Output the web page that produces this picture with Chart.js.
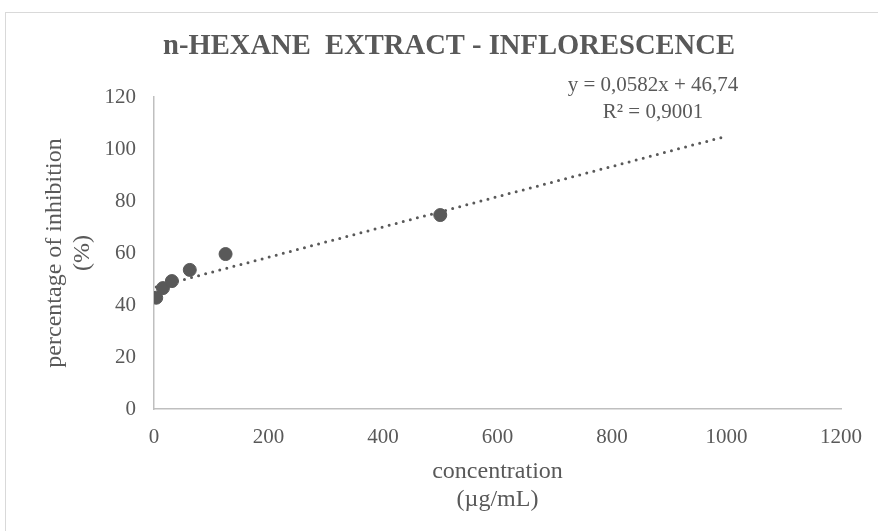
<!DOCTYPE html>
<html>
<head>
<meta charset="utf-8">
<script src="https://cdn.jsdelivr.net/npm/chart.js@4/dist/chart.umd.min.js"></script>
<style>
    html, body { margin: 0; padding: 0; background: #fff; }
    #wrap { width: 878px; height: 531px; }
</style>
</head>
<body>
<div id="wrap"><canvas id="inhibitionChart"></canvas></div>
<script>
const concentration = [3.9, 15.6, 31.25, 62.5, 125, 500];
const inhibition = [42.8, 46.5, 49.2, 53.5, 59.6, 74.6];

// linear trendline endpoints, as shown on the chart
const trendX = [3.9, 1000];
const trendY = [46.97, 104.94];

const xTicks = [0, 200, 400, 600, 800, 1000, 1200];
const yTicks = [0, 20, 40, 60, 80, 100, 120];

const chartTitle = 'n-HEXANE  EXTRACT - INFLORESCENCE';
const equationLines = ['y = 0,0582x + 46,74', 'R\u00b2 = 0,9001'];

const textColor = '#595959';
const serif = "'Liberation Serif', 'Times New Roman', serif";

const framePlugin = {
    id: 'frame',
    beforeDraw(chart) {
        const ctx = chart.ctx;
        ctx.save();
        ctx.strokeStyle = '#d9d9d9';
        ctx.lineWidth = 1;
        ctx.strokeRect(5.5, 12.5, chart.width + 20, chart.height + 20);
        ctx.restore();
    }
};

// title and trendline equation, drawn as text on the canvas
const labelsPlugin = {
    id: 'labels',
    afterDraw(chart) {
        const ctx = chart.ctx;
        ctx.save();
        ctx.fillStyle = textColor;
        ctx.textAlign = 'center';
        ctx.textBaseline = 'middle';
        ctx.font = `bold 28.6px ${serif}`;
        ctx.fillText(chartTitle, 449, 47);
        ctx.font = `21px ${serif}`;
        ctx.fillText(equationLines[0], 653, 85);
        ctx.fillText(equationLines[1], 653, 112);
        ctx.restore();
    }
};

const ctx = document.getElementById('inhibitionChart').getContext('2d');
new Chart(ctx, {
    type: 'scatter',
    data: {
        datasets: [
            {
                label: 'inhibition',
                data: concentration.map((c, i) => ({ x: c, y: inhibition[i] })),
                backgroundColor: '#595959',
                borderColor: '#595959',
                pointRadius: 6.5,
                pointHoverRadius: 6.5,
                order: 1
            },
            {
                label: 'trend',
                type: 'line',
                data: trendX.map((x, i) => ({ x: x, y: trendY[i] })),
                borderColor: '#595959',
                borderWidth: 3,
                borderDash: [0, 7.3],
                borderCapStyle: 'round',
                pointRadius: 0,
                fill: false,
                order: 2
            }
        ]
    },
    options: {
        responsive: true,
        maintainAspectRatio: false,
        animation: false,
        layout: {
            padding: { top: 97, right: 34, bottom: 0, left: 0 }
        },
        plugins: {
            legend: { display: false },
            tooltip: { enabled: false },
            title: { display: false }
        },
        scales: {
            x: {
                type: 'linear',
                min: 0,
                max: 1200,
                afterBuildTicks: s => { s.ticks = xTicks.map(v => ({ value: v })); },
                afterFit: s => { s.height = 122; },
                grid: { display: false, drawTicks: false },
                border: { display: true, color: '#bfbfbf', width: 1.5 },
                ticks: {
                    color: textColor,
                    padding: 16,
                    maxRotation: 0,
                    font: { family: serif, size: 21 },
                    callback: v => String(v)
                },
                title: {
                    display: true,
                    text: ['concentration', '(\u00b5g/mL)'],
                    color: textColor,
                    font: { family: serif, size: 24, lineHeight: 1.17 },
                    padding: { top: 0, bottom: 17 }
                }
            },
            y: {
                min: 0,
                max: 120,
                afterBuildTicks: s => { s.ticks = yTicks.map(v => ({ value: v })); },
                afterFit: s => { s.width = 154; },
                grid: { display: false, drawTicks: false },
                border: { display: true, color: '#bfbfbf', width: 1.5 },
                ticks: {
                    color: textColor,
                    padding: 18,
                    font: { family: serif, size: 21 },
                    callback: v => String(v)
                },
                title: {
                    display: true,
                    text: ['percentage of inhibition', '(%)'],
                    color: textColor,
                    font: { family: serif, size: 24, lineHeight: 1.17 },
                    padding: { top: 41, bottom: 0 }
                }
            }
        }
    },
    plugins: [framePlugin, labelsPlugin]
});
</script>
</body>
</html>
